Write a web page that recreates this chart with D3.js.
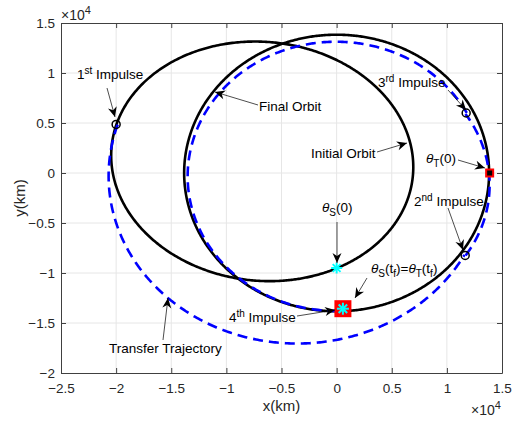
<!DOCTYPE html>
<html>
<head>
<meta charset="utf-8">
<script src="https://cdn.jsdelivr.net/npm/d3@7"></script>
<style>
body { margin: 0; background: #fff; }
text { font-family: "Liberation Sans", Arial, sans-serif; }
</style>
</head>
<body>
<svg width="521" height="422"></svg>
<script>
// axis ticks (km)
const xTicks = [-25000, -20000, -15000, -10000, -5000, 0, 5000, 10000, 15000];
const yTicks = [-20000, -15000, -10000, -5000, 0, 5000, 10000, 15000];

// orbits and transfer arcs as conics with the focus at the origin
// r = p / (1 + e cos(theta - omega)), angles in degrees
const orbitNames = ["Initial Orbit", "Final Orbit", "Transfer 1-2", "Transfer 2-3", "Transfer 3-4"];
const orbitP = [10340, 13830, 16450, 12400, 13450];
const orbitE = [0.498, 0, 0.205, 0.134, 0.025];
const orbitOmega = [350.2, 0, 4, 140, 80];
const arcStart = [0, 0, 166.3, 324.8, 27];
const arcEnd = [360, 360, 324.8, 387, 272.4];

// markers (km)
const impulseX = [-20000, 11660, 11750];
const impulseY = [4860, -8240, 6000];
const targetStart = [13880, 0];
const chaserStart = [0, -9500];
const rendezvous = [570, -13570];

// annotation texts: [text, kind]
const noteTexts = [
	[["1", ""], ["st", "sup"], [" Impulse", ""]],
	[["Final Orbit", ""]],
	[["3", ""], ["rd", "sup"], [" Impulse", ""]],
	[["Initial Orbit", ""]],
	[["θ", "it"], ["T", "sub"], ["(0)", ""]],
	[["2", ""], ["nd", "sup"], [" Impulse", ""]],
	[["θ", "it"], ["S", "sub"], ["(0)", ""]],
	[["θ", "it"], ["S", "sub"], ["(t", ""], ["f", "sub"], [")=", ""], ["θ", "it"], ["T", "sub"], ["(t", ""], ["f", "sub"], [")", ""]],
	[["4", ""], ["th", "sup"], [" Impulse", ""]],
	[["Transfer Trajectory", ""]],
];

// annotation layout in pixels: text x, baseline, arrow from, arrow tip
const noteLayout = [
	{ tx: 77, ty: 79, x1: 107, y1: 88, x2: 115, y2: 117 },
	{ tx: 259, ty: 111, x1: 258, y1: 105, x2: 215, y2: 92 },
	{ tx: 378, ty: 87, x1: 448, y1: 90, x2: 466, y2: 110 },
	{ tx: 311, ty: 158, x1: 377, y1: 152, x2: 407, y2: 143 },
	{ tx: 426, ty: 163, x1: 458, y1: 160, x2: 485, y2: 168 },
	{ tx: 414, ty: 206, x1: 448, y1: 208, x2: 463, y2: 250 },
	{ tx: 322, ty: 212, x1: 337, y1: 222, x2: 337, y2: 263 },
	{ tx: 371, ty: 273, x1: 367, y1: 278, x2: 355, y2: 298 },
	{ tx: 229, ty: 322, x1: 297, y1: 316, x2: 335, y2: 310 },
	{ tx: 109, ty: 353, x1: 163, y1: 340, x2: 168, y2: 298 },
];

const svg = d3.select("svg");
const mLeft = 61, mRight = 502, mTop = 23, mBottom = 373;

const x = d3.scaleLinear().domain([-25000, 15000]).range([mLeft, mRight]);
const y = d3.scaleLinear().domain([-20000, 15000]).range([mBottom, mTop]);
const fmt = (d) => d3.format("")(d / 1e4);

// grid
const grid = svg.append("g").attr("stroke", "#e6e6e6").attr("stroke-width", 1);
grid.selectAll(".gx").data(xTicks.slice(1, -1)).enter().append("line")
	.attr("x1", (d) => x(d)).attr("x2", (d) => x(d))
	.attr("y1", mTop).attr("y2", mBottom);
grid.selectAll(".gy").data(yTicks.slice(1, -1)).enter().append("line")
	.attr("y1", (d) => y(d)).attr("y2", (d) => y(d))
	.attr("x1", mLeft).attr("x2", mRight);

// axes (MATLAB style, ticks inward on all sides)
const axisColor = "#404040";
const xAxis = svg.append("g").attr("transform", `translate(0,${mBottom})`)
	.call(d3.axisBottom(x).tickValues(xTicks).tickFormat(fmt).tickSizeInner(-5).tickSizeOuter(0).tickPadding(10));
const xAxisTop = svg.append("g").attr("transform", `translate(0,${mTop})`)
	.call(d3.axisTop(x).tickValues(xTicks).tickFormat("").tickSizeInner(-5).tickSizeOuter(0));
const yAxis = svg.append("g").attr("transform", `translate(${mLeft},0)`)
	.call(d3.axisLeft(y).tickValues(yTicks).tickFormat(fmt).tickSizeInner(-5).tickSizeOuter(0).tickPadding(6));
const yAxisRight = svg.append("g").attr("transform", `translate(${mRight},0)`)
	.call(d3.axisRight(y).tickValues(yTicks).tickFormat("").tickSizeInner(-5).tickSizeOuter(0));

[xAxis, xAxisTop, yAxis, yAxisRight].forEach((g) => {
	g.select(".domain").attr("stroke", axisColor);
	g.selectAll(".tick line").attr("stroke", axisColor);
	g.selectAll(".tick text").attr("fill", "#262626").style("font-size", "13.5px")
		.style("font-family", '"Liberation Sans", Arial, sans-serif');
});

// exponent labels
const expo = (px, py) => {
	const t = svg.append("text").attr("x", px).attr("y", py).attr("fill", "#262626").style("font-size", "14px");
	t.append("tspan").text("×10");
	t.append("tspan").attr("dy", -6).style("font-size", "11px").text("4");
};
expo(61, 20);
expo(471, 415);

// axis labels
svg.append("text").attr("x", (mLeft + mRight) / 2).attr("y", 411).attr("text-anchor", "middle")
	.attr("fill", "#262626").style("font-size", "15px").text("x(km)");
svg.append("text").attr("transform", `translate(25,${(mTop + mBottom) / 2}) rotate(-90)`)
	.attr("text-anchor", "middle").attr("fill", "#262626").style("font-size", "15px").text("y(km)");

// orbit curves
const rad = Math.PI / 180;
const arcPoints = (i) => {
	const pts = [];
	for (let th = arcStart[i]; th <= arcEnd[i] + 1e-9; th += 0.5) {
		const r = orbitP[i] / (1 + orbitE[i] * Math.cos((th - orbitOmega[i]) * rad));
		pts.push([r * Math.cos(th * rad), r * Math.sin(th * rad)]);
	}
	return pts;
};
const line = d3.line().x((d) => x(d[0])).y((d) => y(d[1]));

const plot = svg.append("g");
plot.selectAll(".orbit").data(orbitNames).enter().append("path")
	.attr("class", "orbit")
	.attr("d", (d, i) => line(arcPoints(i)) + (arcEnd[i] - arcStart[i] >= 360 ? "Z" : ""))
	.attr("fill", "none")
	.attr("stroke", (d, i) => (i < 2 ? "#000" : "#0000ff"))
	.attr("stroke-width", 2.6)
	.attr("stroke-dasharray", (d, i) => (i < 2 ? null : "10,6"));

// impulse markers
plot.selectAll(".imp").data(impulseX).enter().append("circle")
	.attr("cx", (d) => x(d)).attr("cy", (d, i) => y(impulseY[i]))
	.attr("r", 4).attr("fill", "none").attr("stroke", "#000").attr("stroke-width", 1.5);

// target start: small red square
plot.append("rect")
	.attr("x", x(targetStart[0]) - 3.5).attr("y", y(targetStart[1]) - 3.5)
	.attr("width", 7).attr("height", 7)
	.attr("fill", "#000").attr("stroke", "#ff0000").attr("stroke-width", 2);

// asterisk marker
const asterisk = (cx, cy, s, color) => {
	const g = plot.append("g").attr("transform", `translate(${cx},${cy})`)
		.attr("stroke", color).attr("stroke-width", 2);
	[0, 45, 90, 135].forEach((a) => {
		const dx = Math.cos(a * rad) * s, dy = Math.sin(a * rad) * s;
		g.append("line").attr("x1", -dx).attr("y1", -dy).attr("x2", dx).attr("y2", dy);
	});
};

asterisk(x(chaserStart[0]), y(chaserStart[1]), 5.5, "#00ffff");

// rendezvous: red square with cyan asterisk
plot.append("rect")
	.attr("x", x(rendezvous[0]) - 8.5).attr("y", y(rendezvous[1]) - 8.5)
	.attr("width", 17).attr("height", 17).attr("fill", "#ff0000");
asterisk(x(rendezvous[0]), y(rendezvous[1]), 6, "#00ffff");

// annotations
const notes = svg.append("g");
noteLayout.forEach((L, i) => {
	notes.append("line").attr("x1", L.x1).attr("y1", L.y1).attr("x2", L.x2).attr("y2", L.y2)
		.attr("stroke", "#000").attr("stroke-width", 0.7);
	const ang = Math.atan2(L.y2 - L.y1, L.x2 - L.x1) / rad;
	notes.append("path").attr("d", "M0,0L-10,-4.5L-7,0L-10,4.5Z")
		.attr("transform", `translate(${L.x2},${L.y2}) rotate(${ang})`).attr("fill", "#000");

	const t = notes.append("text").attr("x", L.tx).attr("y", L.ty).attr("fill", "#000").style("font-size", "13.5px");
	let shift = 0;
	noteTexts[i].forEach(([s, kind]) => {
		const target = kind === "sup" ? -5 : kind === "sub" ? 4 : 0;
		const sp = t.append("tspan").attr("dy", target - shift).text(s);
		if (kind === "sup" || kind === "sub") sp.style("font-size", "10px");
		if (kind === "it") sp.style("font-style", "italic");
		shift = target;
	});
});
</script>
</body>
</html>
